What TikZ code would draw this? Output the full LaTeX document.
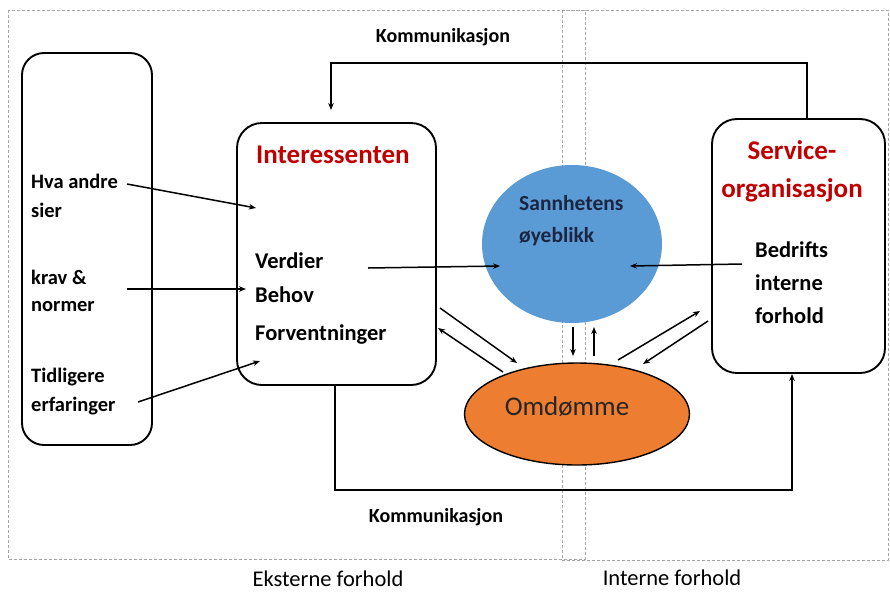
\documentclass[tikz,border=0pt]{standalone}
\usepackage{fontspec}
\setmainfont{Carlito}
\usetikzlibrary{arrows.meta,shapes.geometric}
\definecolor{bluefill}{HTML}{5B9BD5}
\definecolor{orangefill}{HTML}{ED7D31}
\definecolor{headred}{HTML}{C00000}
\definecolor{navytext}{HTML}{1C2541}
\begin{document}
\begin{tikzpicture}[x=1pt,y=-1pt,
  box/.style={draw,line width=1.9pt,rounded corners=22pt,inner sep=0pt},
  lbl/.style={font=\bfseries\fontsize{20.5}{24}\selectfont,anchor=west,inner sep=0pt},
  mlbl/.style={font=\bfseries\fontsize{22.5}{26}\selectfont,anchor=west,inner sep=0pt},
  head/.style={font=\bfseries\fontsize{27}{31}\selectfont,text=headred,inner sep=0pt},
  comm/.style={font=\bfseries\fontsize{20}{24}\selectfont,inner sep=0pt},
  side/.style={font=\fontsize{22.5}{26}\selectfont,inner sep=0pt},
  frame/.style={draw=gray!70,line width=0.6pt,dash pattern=on 3pt off 2pt},
  arr/.style={line width=1.5pt,-{Stealth[length=7pt,width=5.5pt]}}
]
\useasboundingbox (0,0) rectangle (890,592);
% dashed frames
\draw[frame] (8,10) rectangle (585,559);
\draw[frame] (562,10) rectangle (888,560);
% boxes
\node[box,minimum width=130pt,minimum height=392pt] (src) at (87,249) {};
\node[box,minimum width=199pt,minimum height=262pt,rounded corners=25pt] (int) at (336.5,254) {};
\node[box,minimum width=173pt,minimum height=254pt,rounded corners=25pt] (svc) at (798.5,246) {};
\node[ellipse,fill=bluefill,minimum width=180pt,minimum height=158pt,inner sep=0pt] (sann) at (572,244) {};
\node[ellipse,draw,fill=orangefill,line width=1.4pt,minimum width=225pt,minimum height=102pt,inner sep=0pt] (omd) at (577,414) {};
% texts
\node[lbl] (t1) at (31,181) {Hva andre};
\node[lbl] (t1b) at (31,210) {sier};
\node[lbl] (t2) at (31,277) {krav \&};
\node[lbl] (t2b) at (31,307) {normer};
\node[lbl] (t3) at (31,377) {Tidligere};
\node[lbl] (t3b) at (31,406) {erfaringer};
\node[head,anchor=west] (ih) at (256,155) {Interessenten};
\node[mlbl] (v1) at (255,261) {Verdier};
\node[mlbl] (v2) at (255,295) {Behov};
\node[mlbl] (v3) at (255,335) {Forventninger};
\node[mlbl,text=navytext,font=\bfseries\fontsize{21.5}{25}\selectfont] (s1) at (519,203) {Sannhetens};
\node[mlbl,text=navytext,font=\bfseries\fontsize{21.5}{25}\selectfont] (s2) at (519,237) {øyeblikk};
\node[font=\fontsize{27}{31}\selectfont,inner sep=0pt,text=black!85] (om) at (567,407) {Omdømme};
\node[head] (sh1) at (792,150) {Service-};
\node[head] (sh2) at (792,190) {organisasjon};
\node[mlbl] (b1) at (755,250) {Bedrifts};
\node[mlbl] (b2) at (755,283) {interne};
\node[mlbl] (b3) at (755,316) {forhold};
\node[comm] (k1) at (443,37) {Kommunikasjon};
\node[comm] (k2) at (436,517) {Kommunikasjon};
\node[side] (ek) at (328,579) {Eksterne forhold};
\node[side] (in) at (672,578) {Interne forhold};
% coordinates
\coordinate (a1s) at (127,184); \coordinate (a1e) at (256,208);
\coordinate (a2s) at (127,289); \coordinate (a2e) at (246,289);
\coordinate (a3s) at (138,402); \coordinate (a3e) at (260,361);
\coordinate (vs) at (368,268); \coordinate (ve) at (500,266);
\coordinate (bs) at (742,264); \coordinate (be) at (630,266);
\coordinate (ctop) at (807,63); \coordinate (ctopl) at (331,63);
\coordinate (cbot) at (335,490); \coordinate (cbotr) at (792,490);
\coordinate (d1s) at (573,327); \coordinate (d1e) at (573,356);
\coordinate (d2s) at (594,356); \coordinate (d2e) at (594,327);
\coordinate (l1s) at (440,308); \coordinate (l1e) at (517,363);
\coordinate (l2s) at (503,372); \coordinate (l2e) at (438,328);
\coordinate (r1s) at (618,360); \coordinate (r1e) at (700,311);
\coordinate (r2s) at (708,321); \coordinate (r2e) at (643,364);
% arrows
\draw[arr] (a1s) -- (a1e);
\draw[arr] (a2s) -- (a2e);
\draw[arr] (a3s) -- (a3e);
\draw[arr] (vs) -- (ve);
\draw[arr] (bs) -- (be);
\draw[arr] (d1s) -- (d1e);
\draw[arr] (d2s) -- (d2e);
\draw[arr] (l1s) -- (l1e);
\draw[arr] (l2s) -- (l2e);
\draw[arr] (r1s) -- (r1e);
\draw[arr] (r2s) -- (r2e);
\draw[arr] (svc.north -| ctop) -- (ctop) -- (ctopl) -- ([yshift=12pt]int.north -| ctopl);
\draw[arr] (int.south -| cbot) -- (cbot) -- (cbotr) -- (svc.south -| cbotr);
\end{tikzpicture}
\end{document}
